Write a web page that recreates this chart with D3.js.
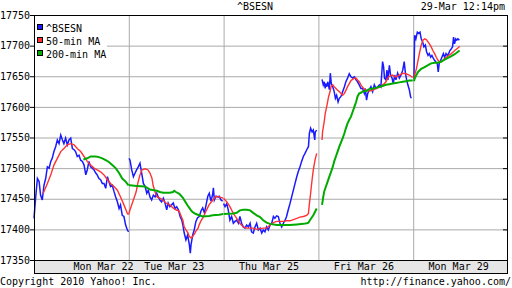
<!DOCTYPE html>
<html>
<head>
<meta charset="utf-8">
<script src="https://cdn.jsdelivr.net/npm/d3@7"></script>
<style>
  body { margin: 0; background: #fff; }
  text { font-family: "DejaVu Sans Mono", monospace; font-size: 10px; fill: #000; }
</style>
</head>
<body>
<script>
// trading days on the chart, each session is 390 minutes wide
const days = ["Mon Mar 22", "Tue Mar 23", "Thu Mar 25", "Fri Mar 26", "Mon Mar 29"];
// where each day label sits, in minutes from that session's open
const labelMinute = [286, 187, 187, 187, 187];
const yTicks = [17350, 17400, 17450, 17500, 17550, 17600, 17650, 17700, 17750];

// ^BSESN, [minute of session, value], one list per day
const bsesn = [
  [[0,17418],[7,17453],[14,17483],[21,17478],[27,17456],[34,17448],[41,17472],[48,17483],[55,17502],[62,17500],
   [69,17511],[75,17516],[82,17527],[89,17535],[96,17546],[103,17540],[110,17554],[117,17546],[123,17540],[130,17549],
   [137,17538],[144,17546],[151,17549],[158,17532],[165,17530],[171,17527],[178,17519],[185,17521],[192,17513],[199,17511],
   [206,17505],[213,17489],[219,17497],[226,17511],[233,17502],[240,17500],[247,17497],[254,17492],[260,17489],[267,17483],
   [274,17481],[281,17475],[288,17475],[295,17467],[302,17486],[308,17478],[315,17470],[322,17472],[329,17462],[336,17453],
   [343,17445],[350,17434],[356,17440],[363,17423],[370,17421],[377,17407],[384,17399],[389,17396]],
  [[1,17516],[5,17513],[12,17497],[19,17486],[26,17492],[32,17497],[39,17502],[46,17508],[53,17492],[60,17475],
   [67,17470],[74,17459],[80,17464],[87,17453],[94,17448],[101,17456],[108,17453],[115,17459],[121,17453],[128,17448],
   [135,17445],[142,17451],[149,17443],[156,17432],[162,17443],[169,17437],[176,17440],[183,17443],[190,17434],[197,17437],
   [204,17432],[211,17421],[218,17415],[222,17408],[228,17394],[235,17383],[242,17391],[249,17375],[253,17361],[256,17375],
   [263,17391],[269,17399],[276,17413],[283,17419],[290,17421],[297,17430],[304,17435],[311,17427],[318,17440],[325,17454],
   [331,17459],[338,17446],[345,17457],[348,17468],[352,17448],[359,17454],[366,17453],[372,17454],[379,17448],[386,17446]],
  [[0,17442],[6,17437],[13,17442],[19,17432],[26,17415],[33,17421],[40,17410],[47,17413],[54,17415],[61,17410],
   [67,17421],[74,17410],[81,17404],[88,17402],[95,17407],[102,17404],[109,17410],[115,17396],[122,17394],[129,17404],
   [136,17410],[143,17399],[150,17402],[157,17394],[163,17399],[170,17396],[177,17404],[184,17399],[191,17407],[198,17410],
   [205,17421],[211,17418],[218,17422],[225,17421],[232,17410],[239,17404],[246,17410],[253,17415],[259,17421],[266,17432],
   [273,17442],[280,17453],[287,17464],[294,17475],[301,17486],[307,17494],[314,17502],[321,17511],[328,17519],[335,17524],
   [342,17530],[349,17535],[353,17557],[358,17565],[364,17559],[369,17562],[375,17546],[377,17559],[383,17562]],
  [[15,17645],[20,17636],[24,17641],[28,17630],[31,17638],[35,17633],[39,17641],[45,17628],[49,17655],[53,17638],
   [59,17633],[65,17625],[70,17614],[75,17619],[81,17608],[86,17614],[93,17617],[100,17625],[107,17633],[113,17641],
   [120,17647],[127,17654],[134,17649],[141,17647],[148,17649],[155,17644],[161,17641],[168,17636],[175,17630],[182,17630],
   [189,17622],[193,17630],[198,17611],[203,17622],[209,17628],[216,17633],[223,17625],[230,17636],[237,17630],[244,17633],
   [251,17636],[257,17633],[264,17674],[268,17666],[272,17647],[278,17644],[282,17660],[286,17644],[292,17668],[297,17652],
   [303,17647],[308,17638],[314,17652],[319,17644],[326,17655],[333,17647],[340,17652],[347,17660],[353,17674],[358,17655],
   [363,17644],[368,17636],[374,17628],[379,17617],[382,17614]],
  [[3,17646],[6,17717],[11,17711],[17,17722],[22,17720],[28,17722],[33,17711],[39,17706],[44,17698],[50,17701],
   [55,17690],[61,17684],[66,17687],[72,17681],[77,17684],[83,17679],[88,17676],[94,17673],[99,17671],[103,17657],
   [107,17671],[113,17676],[118,17681],[124,17687],[129,17681],[135,17687],[140,17684],[146,17687],[151,17692],[157,17695],
   [162,17698],[166,17714],[170,17703],[175,17711],[179,17709],[184,17711],[190,17709]]
];

// 50-min moving average
const ma50 = [
  [[38,17459],[41,17462],[55,17475],[69,17489],[82,17505],[96,17516],[110,17527],[123,17532],[137,17538],[151,17540],
   [165,17538],[178,17532],[192,17527],[206,17519],[219,17511],[233,17505],[247,17500],[260,17497],[274,17494],[288,17489],
   [302,17481],[315,17475],[329,17470],[343,17464],[356,17453],[370,17440],[384,17426],[389,17424]],
  [[0,17425],[5,17432],[17,17446],[30,17461],[38,17477],[46,17489],[54,17497],[67,17499],[79,17497],[87,17492],
   [95,17484],[100,17472],[108,17461],[116,17453],[128,17451],[140,17448],[153,17443],[169,17440],[182,17435],[194,17432],
   [207,17430],[215,17422],[223,17414],[227,17405],[235,17399],[244,17394],[248,17389],[256,17386],[264,17389],[272,17394],
   [276,17397],[285,17402],[289,17407],[297,17414],[305,17419],[318,17430],[330,17440],[346,17448],[359,17454],[371,17453],
   [388,17451]],
  [[0,17451],[13,17445],[26,17437],[40,17426],[54,17418],[67,17410],[81,17404],[95,17402],[122,17402],[136,17400],
   [163,17402],[177,17402],[191,17407],[205,17411],[218,17413],[246,17413],[259,17414],[273,17414],[287,17416],[301,17418],
   [314,17420],[328,17421],[342,17423],[349,17426],[353,17442],[358,17459],[364,17481],[369,17497],[376,17513],[383,17524]],
  [[15,17546],[17,17559],[24,17576],[28,17589],[34,17600],[38,17608],[42,17617],[48,17625],[52,17633],[59,17636],
   [65,17633],[72,17630],[79,17627],[86,17625],[93,17622],[100,17619],[107,17622],[113,17627],[120,17633],[127,17638],
   [134,17643],[141,17645],[148,17647],[155,17647],[161,17644],[168,17641],[175,17636],[182,17632],[189,17629],[196,17627],
   [209,17626],[223,17627],[237,17630],[251,17632],[257,17633],[264,17636],[271,17638],[278,17641],[285,17647],[292,17650],
   [305,17652],[312,17650],[319,17649],[333,17652],[347,17655],[360,17654],[374,17652],[388,17648]],
  [[3,17647],[6,17652],[13,17662],[20,17676],[27,17690],[33,17701],[40,17709],[47,17711],[54,17710],[61,17706],
   [68,17702],[74,17698],[81,17692],[88,17687],[95,17681],[102,17676],[109,17673],[116,17674],[122,17676],[129,17679],
   [143,17683],[157,17687],[171,17692],[184,17696],[191,17699]]
];

// 200-min moving average
const ma200 = [
  [[203,17514],[219,17516],[233,17519],[254,17519],[267,17518],[281,17516],[295,17513],[308,17510],[322,17505],[336,17500],
   [350,17492],[363,17483],[377,17478],[389,17472]],
  [[0,17472],[5,17472],[32,17471],[67,17470],[87,17465],[115,17463],[128,17461],[142,17460],[169,17460],[182,17461],
   [187,17463],[194,17461],[208,17458],[222,17452],[228,17448],[242,17439],[249,17435],[256,17431],[263,17428],[276,17425],
   [290,17423],[304,17421],[331,17422],[345,17423],[372,17424],[388,17425]],
  [[0,17425],[40,17426],[54,17427],[67,17431],[81,17432],[95,17432],[109,17431],[122,17427],[136,17423],[150,17420],
   [163,17415],[177,17411],[191,17409],[218,17407],[273,17407],[301,17408],[328,17409],[342,17410],[349,17411],[355,17415],
   [369,17423],[383,17434]],
  [[15,17440],[20,17453],[24,17462],[31,17470],[38,17478],[45,17486],[52,17494],[59,17502],[65,17511],[72,17519],
   [79,17527],[86,17535],[93,17542],[100,17549],[107,17557],[113,17565],[120,17573],[127,17579],[134,17584],[141,17592],
   [148,17600],[155,17608],[161,17617],[168,17622],[175,17623],[182,17625],[196,17626],[209,17629],[223,17630],[237,17631],
   [251,17633],[264,17634],[278,17636],[292,17637],[305,17638],[319,17639],[333,17640],[347,17641],[360,17642],[374,17643],
   [388,17643]],
  [[3,17642],[6,17646],[13,17652],[20,17657],[33,17662],[47,17665],[61,17668],[74,17671],[88,17672],[102,17672],
   [116,17674],[129,17677],[143,17680],[157,17683],[171,17686],[184,17690],[191,17692]]
];

const SESSION = 390;
const WIDTH = 512, HEIGHT = 288;
const LEFT = 34, RIGHT = 508, TOP = 15, BOTTOM = 260, BAND = 13;

const svg = d3.select("body").append("svg")
  .attr("width", WIDTH)
  .attr("height", HEIGHT);

const x = d3.scaleLinear().domain([0, days.length * SESSION]).range([LEFT, RIGHT]);
const y = d3.scaleLinear().domain([17350, 17750]).range([BOTTOM, TOP]);

// header
svg.append("text").attr("x", 255).attr("y", 10).attr("text-anchor", "middle").text("^BSESN");
svg.append("text").attr("x", 505).attr("y", 10).attr("text-anchor", "end").text("29-Mar 12:14pm");

// horizontal grid
svg.append("g")
  .attr("transform", `translate(${LEFT},0)`)
  .call(d3.axisLeft(y).tickValues(yTicks.slice(1, -1)).tickSize(-(RIGHT - LEFT)).tickFormat(""))
  .call(g => g.select(".domain").remove())
  .call(g => g.selectAll("line").attr("stroke", "#aaa"));

// vertical grid at session boundaries
svg.append("g")
  .attr("transform", `translate(0,${BOTTOM})`)
  .call(d3.axisBottom(x).tickValues(d3.range(1, days.length).map(d => d * SESSION))
    .tickSize(-(BOTTOM - TOP)).tickFormat(""))
  .call(g => g.select(".domain").remove())
  .call(g => g.selectAll("line").attr("stroke", "#aaa"));

// y axis labels + outer ticks
svg.append("g")
  .attr("transform", `translate(${LEFT},0)`)
  .call(d3.axisLeft(y).tickValues(yTicks).tickSize(4).tickPadding(0).tickFormat(d3.format("d")))
  .call(g => g.select(".domain").remove())
  .call(g => g.selectAll("text").attr("font-family", "DejaVu Sans Mono").attr("font-size", 10).attr("fill", "#000"));

// inner ticks on the right edge
svg.append("g")
  .attr("transform", `translate(${RIGHT},0)`)
  .call(d3.axisLeft(y).tickValues(yTicks).tickSize(5).tickFormat(""))
  .call(g => g.select(".domain").remove());

// series lines
const line = d3.line()
  .x(d => x(d[2] * SESSION + d[0]))
  .y(d => y(d[1]));

function drawSeries(data, color, width) {
  data.forEach((day, i) => {
    svg.append("path")
      .datum(day.map(p => [p[0], p[1], i]))
      .attr("fill", "none")
      .attr("stroke", color)
      .attr("stroke-width", width)
      .attr("stroke-linejoin", "miter")
      .attr("d", line);
  });
}
drawSeries(bsesn, "#1a1aff", 1.5);
drawSeries(ma50, "#ff3333", 1.4);
drawSeries(ma200, "#00aa00", 2);

// frame
svg.append("rect")
  .attr("x", LEFT + 0.5).attr("y", TOP + 0.5)
  .attr("width", RIGHT - LEFT - 1).attr("height", BOTTOM - TOP)
  .attr("fill", "none").attr("stroke", "#000");

// legend
const legend = [["^BSESN", "#1a1aff"], ["50-min MA", "#ff3333"], ["200-min MA", "#00aa00"]];
svg.append("rect").attr("x", LEFT + 1).attr("y", TOP + 6).attr("width", 72).attr("height", 38).attr("fill", "#fff");
legend.forEach((l, i) => {
  svg.append("rect")
    .attr("x", 37.5).attr("y", 24.5 + i * 13)
    .attr("width", 5).attr("height", 5)
    .attr("fill", l[1]).attr("stroke", "#000");
  svg.append("text").attr("x", 46).attr("y", 32 + i * 13).text(l[0]);
});

// date band
svg.append("rect")
  .attr("x", LEFT + 0.5).attr("y", BOTTOM + 0.5)
  .attr("width", RIGHT - LEFT - 1).attr("height", BAND)
  .attr("fill", "#e6e6e6").attr("stroke", "#000");
svg.append("g").selectAll("text")
  .data(days)
  .enter()
  .append("text")
  .attr("x", (d, i) => x(i * SESSION + labelMinute[i]))
  .attr("y", BOTTOM + 10)
  .attr("text-anchor", "middle")
  .text(d => d);

// footer
svg.append("text").attr("x", 0).attr("y", 285).text("Copyright 2010 Yahoo! Inc.");
svg.append("text").attr("x", 511).attr("y", 285).attr("text-anchor", "end").text("http://finance.yahoo.com/");
</script>
</body>
</html>
